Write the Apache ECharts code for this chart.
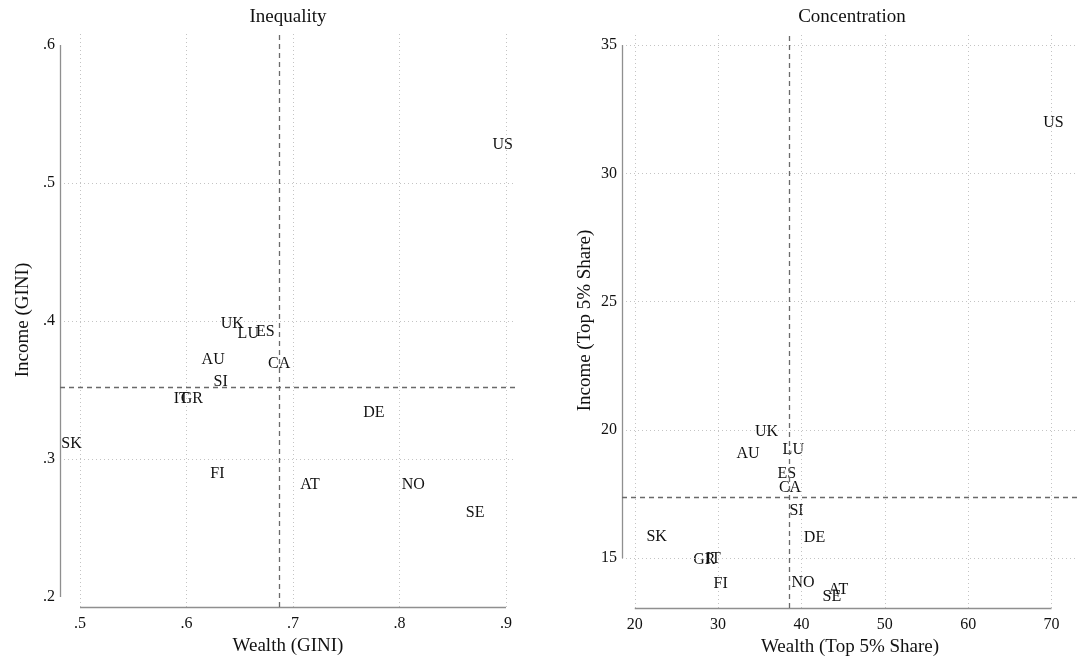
<!DOCTYPE html>
<html><head><meta charset="utf-8">
<script src="https://cdn.jsdelivr.net/npm/echarts@6/dist/echarts.min.js"></script>
<style>html,body{margin:0;padding:0;background:#fff}#c{width:1078px;height:662px}</style>
</head><body><div id="c"></div>
<script>
// ---- data ----
const countries  = ['US','UK','LU','ES','AU','CA','SI','IT','GR','DE','SK','FI','AT','NO','SE'];
const wealthGini = [0.897,0.643,0.658,0.674,0.625,0.687,0.632,0.595,0.605,0.776,0.492,0.629,0.716,0.813,0.871];
const incomeGini = [0.528,0.398,0.391,0.392,0.372,0.369,0.356,0.3435,0.3435,0.3335,0.311,0.289,0.281,0.281,0.261];
const wealthTop5 = [70.24,35.8,39.02,38.24,33.6,38.63,39.41,29.41,28.35,41.57,22.63,30.31,44.43,40.2,43.65];
const incomeTop5 = [31.96,19.91,19.24,18.28,19.06,17.76,16.85,14.96,14.93,15.78,15.84,14.02,13.76,14.05,13.48];
const giniTicksX = [0.5,0.6,0.7,0.8,0.9];
const giniTicksY = [0.2,0.3,0.4,0.5,0.6];
const giniGridX  = [0.5,0.6,0.7,0.8,0.9];
const giniGridY  = [0.3,0.4,0.5];
const top5TicksX = [20,30,40,50,60,70];
const top5TicksY = [15,20,25,30,35];
const giniRef = [0.687, 0.352];   // [wealth, income] reference lines
const top5Ref = [38.5, 17.38];
const panelTitles = ['Inequality','Concentration'];
const xTitles = ['Wealth (GINI)','Wealth (Top 5% Share)'];
const yTitles = ['Income (GINI)','Income (Top 5% Share)'];

// ---- axis ranges (plot regions) ----
const giniRange = {x:[0.4812,0.9094], y:[0.1928,0.6087]};
const top5Range = {x:[18.47,73.18], y:[13.06,35.47]};

const FONT = 'Liberation Serif';
const TXT = '#111';
const fmtGini = v => String(v).replace(/^0/, '');

function xAxisCfg(gi, range, ticks, name, fmt){
  return {gridIndex:gi, type:'value', min:range.x[0], max:range.x[1],
    axisLine:{show:false}, axisTick:{show:false}, splitLine:{show:false},
    axisLabel:{customValues:ticks, formatter:fmt, margin:9, fontFamily:FONT, fontSize:16, color:TXT},
    name:name, nameLocation:'middle', nameGap:28,
    nameTextStyle:{fontFamily:FONT, fontSize:19, color:TXT}};
}
function yAxisCfg(gi, range, ticks, name, fmt){
  return {gridIndex:gi, type:'value', min:range.y[0], max:range.y[1],
    axisLine:{show:false}, axisTick:{show:false}, splitLine:{show:false},
    axisLabel:{customValues:ticks, formatter:fmt, margin:5, fontFamily:FONT, fontSize:16, color:TXT},
    name:name, nameLocation:'middle', nameGap:27,
    nameTextStyle:{fontFamily:FONT, fontSize:19, color:TXT}};
}
function seg(a,b){ return [{coord:a},{coord:b}]; }
function lineSeries(gi, segs, style){
  return {type:'line', xAxisIndex:gi, yAxisIndex:gi, data:[], silent:true,
    markLine:{silent:true, symbol:['none','none'], label:{show:false}, animation:false,
      lineStyle:style, emphasis:{disabled:true}, data:segs}};
}
function decor(gi, range, ticksX, ticksY, gridX, gridY, ref){
  const dotted = [];
  gridX.forEach(x => dotted.push(seg([x, range.y[0]], [x, range.y[1]])));
  gridY.forEach(y => dotted.push(seg([range.x[0], y], [range.x[1], y])));
  const axes = [
    seg([ticksX[0], range.y[0]], [ticksX[ticksX.length-1], range.y[0]]),
    seg([range.x[0], ticksY[0]], [range.x[0], ticksY[ticksY.length-1]])
  ];
  const dashed = [
    seg([ref[0], range.y[0]], [ref[0], range.y[1]]),
    seg([range.x[0], ref[1]], [range.x[1], ref[1]])
  ];
  return [
    lineSeries(gi, dotted, {color:'#c4c4c4', width:1, type:[1,3]}),
    lineSeries(gi, axes, {color:'#8f8f8f', width:1.3, type:'solid'}),
    lineSeries(gi, dashed, {color:'#6a6a6a', width:1.3, type:[5,4]})
  ];
}
function labelSeries(gi, xs, ys){
  return {type:'scatter', xAxisIndex:gi, yAxisIndex:gi, symbolSize:1, silent:true,
    itemStyle:{color:'#000', opacity:0}, emphasis:{disabled:true},
    data: xs.map((x,i)=>[x, ys[i], countries[i]]),
    label:{show:true, position:'inside', formatter:p=>p.data[2],
      fontFamily:FONT, fontSize:16, color:TXT, opacity:1,
      textBorderWidth:0, textBorderColor:'transparent', textShadowBlur:0}};
}

const chart = echarts.init(document.getElementById('c'), null, {renderer:'canvas'});
chart.setOption({
  animation:false,
  backgroundColor:'#fff',
  grid:[
    {left:60, top:33, width:456, height:574},
    {left:622, top:33, width:465, height:575}
  ],
  xAxis:[
    xAxisCfg(0, giniRange, giniTicksX, xTitles[0], fmtGini),
    xAxisCfg(1, top5Range, top5TicksX, xTitles[1], v=>String(v))
  ],
  yAxis:[
    yAxisCfg(0, giniRange, giniTicksY, yTitles[0], fmtGini),
    yAxisCfg(1, top5Range, top5TicksY, yTitles[1], v=>String(v))
  ],
  graphic:[
    {type:'text', x:288, y:17, silent:true, style:{text:panelTitles[0], align:'center', verticalAlign:'middle', textAlign:'center', textVerticalAlign:'middle', font:'19px "Liberation Serif"', fill:TXT}},
    {type:'text', x:852, y:17, silent:true, style:{text:panelTitles[1], align:'center', verticalAlign:'middle', textAlign:'center', textVerticalAlign:'middle', font:'19px "Liberation Serif"', fill:TXT}}
  ],
  series:[
    ...decor(0, giniRange, giniTicksX, giniTicksY, giniGridX, giniGridY, giniRef),
    ...decor(1, top5Range, top5TicksX, top5TicksY, top5TicksX, top5TicksY, top5Ref),
    labelSeries(0, wealthGini, incomeGini),
    labelSeries(1, wealthTop5, incomeTop5)
  ]
});
</script></body></html>
